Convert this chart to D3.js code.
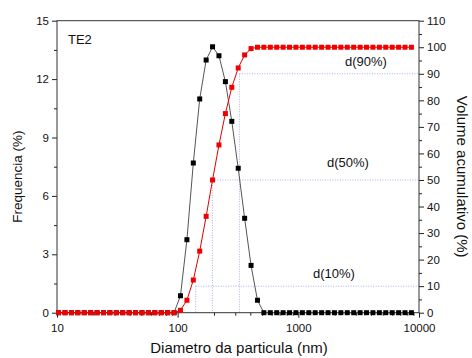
<!DOCTYPE html>
<html lang="en">
<head>
    <meta charset="UTF-8">
    <script src="https://d3js.org/d3.v7.min.js"></script>
    <title>TE2 size distribution</title>
    <style>
        body { margin: 0; background: #fff; }
        text { font-family: "Liberation Sans", Arial, sans-serif; fill: #111; }
    </style>
</head>
<body>
    <script>
        // diameters (nm) of the size bins
        var diameters = [10.3, 11.65, 13.17, 14.88, 16.82, 19.01, 21.48, 24.28, 27.44, 31.01,
            35.05, 39.62, 44.78, 50.61, 57.2, 64.66, 73.08, 82.6, 93.35, 105.5,
            119.3, 134.8, 152.3, 172.2, 194.6, 219.9, 248.6, 280.9, 317.5, 358.9,
            405.6, 458.5, 518.2, 585.6, 662.0, 748.2, 845.6, 955.7, 1080, 1221,
            1380, 1560, 1763, 1992, 2252, 2545, 2876, 3251, 3674, 4152,
            4693, 5304, 5995, 6776, 7658, 8655];
        // frequencia (%)
        var freq = [0, 0, 0, 0, 0, 0, 0, 0, 0, 0,
            0, 0, 0, 0, 0, 0, 0, 0, 0, 0.87,
            3.75, 7.69, 10.98, 12.98, 13.66, 13.2, 11.87, 9.83, 7.42, 4.85,
            2.43, 0.64, 0, 0, 0, 0, 0, 0, 0, 0,
            0, 0, 0, 0, 0, 0, 0, 0, 0, 0,
            0, 0, 0, 0, 0, 0];
        // volume acumulativo (%)
        var volume = [0, 0, 0, 0, 0, 0, 0, 0, 0, 0,
            0, 0, 0, 0, 0, 0, 0, 0, 0, 0.9,
            4.7, 12.3, 23.2, 36.3, 50.0, 63.2, 75.0, 84.9, 92.2, 97.1,
            99.5, 100, 100, 100, 100, 100, 100, 100, 100, 100,
            100, 100, 100, 100, 100, 100, 100, 100, 100, 100,
            100, 100, 100, 100, 100, 100];
        var pctLabels = ['d(10%)', 'd(50%)', 'd(90%)'];
        var pctVolume = [10, 50, 90];
        var pctDiam = [141, 194, 325];
        var xTicks = [10, 100, 1000, 10000];
        var yLeftTicks = [0, 3, 6, 9, 12, 15];
        var yRightTicks = [0, 10, 20, 30, 40, 50, 60, 70, 80, 90, 100, 110];

        var width = 472, height = 358;
        var margin = {left: 57, right: 53, top: 20.7, bottom: 45.3};
        var pw = width - margin.left - margin.right;
        var ph = height - margin.top - margin.bottom;

        var x = d3.scaleLog().domain([10, 10000]).range([0, pw]);
        var yL = d3.scaleLinear().domain([0, 15]).range([ph, 0]);
        var yR = d3.scaleLinear().domain([0, 110]).range([ph, 0]);

        var svg = d3.select('body').append('svg')
            .attr('width', width)
            .attr('height', height);
        var g = svg.append('g')
            .attr('transform', 'translate(' + margin.left + ',' + margin.top + ')');

        // dotted guide lines for the percentiles
        var guides = g.append('g');
        pctVolume.forEach(function(v, i) {
            var px = x(pctDiam[i]);
            guides.append('line')
                .attr('x1', px).attr('x2', px)
                .attr('y1', yR(v)).attr('y2', ph);
            guides.append('line')
                .attr('x1', px).attr('x2', pw)
                .attr('y1', yR(v)).attr('y2', yR(v));
        });
        guides.selectAll('line')
            .attr('stroke', '#a9b2e6')
            .attr('stroke-width', 1)
            .attr('stroke-dasharray', '1,1.5');

        // label offsets (dx from right axis, dy from guide line)
        var labelPos = [[-106, -8], [-92, -13], [-74, -8]];
        pctLabels.forEach(function(t, i) {
            g.append('text')
                .attr('x', pw + labelPos[i][0])
                .attr('y', yR(pctVolume[i]) + labelPos[i][1])
                .attr('font-size', 13)
                .text(t);
        });

        // axes
        var minorX = x.ticks().filter(function(d) { return xTicks.indexOf(d) < 0; });
        var xAxis = d3.axisBottom(x).tickValues(xTicks).tickSize(5).tickPadding(6).tickFormat(d3.format('d'));
        var xMinor = d3.axisBottom(x).tickValues(minorX).tickSize(3).tickFormat('');
        var yAxisL = d3.axisLeft(yL).tickValues(yLeftTicks).tickSize(5);
        var yMinorL = d3.axisLeft(yL).tickValues([1.5, 4.5, 7.5, 10.5, 13.5]).tickSize(3).tickFormat('');
        var yAxisR = d3.axisRight(yR).tickValues(yRightTicks).tickSize(5);
        var yMinorR = d3.axisRight(yR).tickValues([5, 15, 25, 35, 45, 55, 65, 75, 85, 95, 105]).tickSize(3).tickFormat('');

        function styleAxis(sel) {
            sel.select('.domain').remove();
            sel.selectAll('line').attr('stroke', '#222');
            sel.selectAll('text').attr('font-size', 11.5).attr('fill', '#111')
                .style('font-family', '"Liberation Sans", Arial, sans-serif');
        }
        g.append('g').attr('transform', 'translate(0,' + ph + ')').call(xAxis).call(styleAxis);
        g.append('g').attr('transform', 'translate(0,' + ph + ')').call(xMinor).call(styleAxis);
        g.append('g').call(yAxisL).call(styleAxis);
        g.append('g').call(yMinorL).call(styleAxis);
        g.append('g').attr('transform', 'translate(' + pw + ',0)').call(yAxisR).call(styleAxis);
        g.append('g').attr('transform', 'translate(' + pw + ',0)').call(yMinorR).call(styleAxis);

        g.append('rect')
            .attr('width', pw).attr('height', ph)
            .attr('fill', 'none')
            .attr('stroke', '#333')
            .attr('stroke-width', 1);

        // frequency series (black)
        var freqData = diameters.map(function(d, i) { return [d, freq[i]]; });
        var volData = diameters.map(function(d, i) { return [d, volume[i]]; });

        g.append('path')
            .datum(freqData)
            .attr('fill', 'none')
            .attr('stroke', '#555')
            .attr('stroke-width', 1)
            .attr('d', d3.line().x(function(d) { return x(d[0]); }).y(function(d) { return yL(d[1]); }));
        g.selectAll('.fpt').data(freqData).enter()
            .append('rect')
            .attr('class', 'fpt')
            .attr('x', function(d) { return x(d[0]) - 2.5; })
            .attr('y', function(d) { return yL(d[1]) - 2.5; })
            .attr('width', 5).attr('height', 5)
            .attr('fill', '#000');

        // cumulative volume series (red)
        g.append('path')
            .datum(volData)
            .attr('fill', 'none')
            .attr('stroke', '#e00000')
            .attr('stroke-width', 1)
            .attr('d', d3.line().x(function(d) { return x(d[0]); }).y(function(d) { return yR(d[1]); }));
        g.selectAll('.vpt').data(volData).enter()
            .append('rect')
            .attr('class', 'vpt')
            .attr('x', function(d) { return x(d[0]) - 2.5; })
            .attr('y', function(d) { return yR(d[1]) - 2.5; })
            .attr('width', 5).attr('height', 5)
            .attr('fill', '#f00000');

        g.append('text')
            .attr('x', 11).attr('y', 23)
            .attr('font-size', 13)
            .text('TE2');

        // axis titles
        svg.append('text')
            .attr('transform', 'translate(22,' + (margin.top + ph / 2 + 10) + ') rotate(-90)')
            .attr('text-anchor', 'middle')
            .attr('font-size', 13.5)
            .text('Frequencia (%)');
        svg.append('text')
            .attr('transform', 'translate(457,' + (margin.top + ph / 2 + 10) + ') rotate(90)')
            .attr('text-anchor', 'middle')
            .attr('font-size', 15)
            .text('Volume acumulativo (%)');
        svg.append('text')
            .attr('x', margin.left + pw / 2 + 1).attr('y', 353)
            .attr('text-anchor', 'middle')
            .attr('font-size', 15)
            .text('Diametro da particula (nm)');
    </script>
</body>
</html>
